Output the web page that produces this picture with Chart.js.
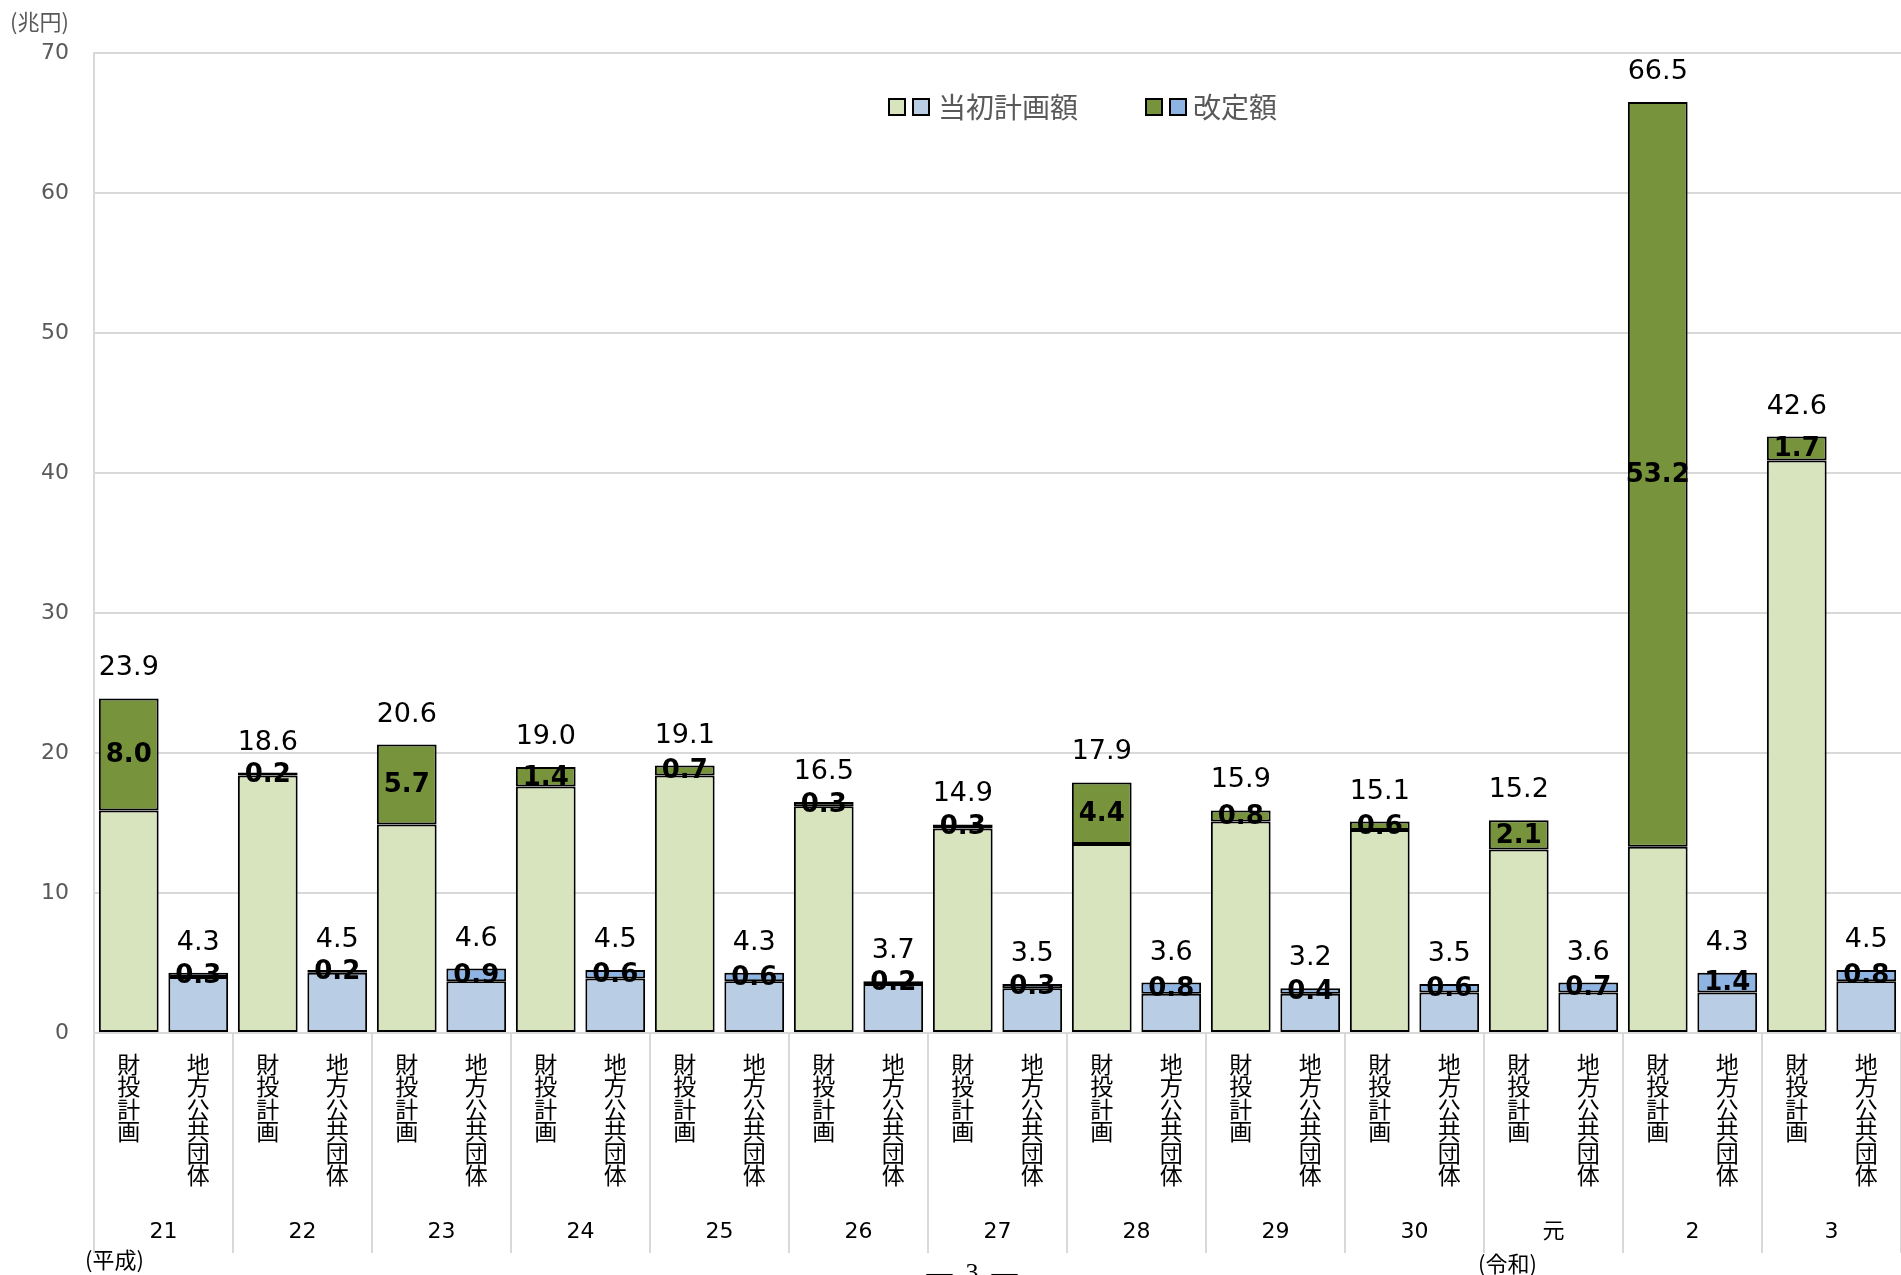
<!DOCTYPE html>
<html lang="ja">
<head>
<meta charset="utf-8">
<title>財投計画・地方公共団体 当初計画額と改定額</title>
<script src="https://cdn.jsdelivr.net/npm/chart.js@4.4.1/dist/chart.umd.min.js"></script>
<style>
  html, body { margin: 0; padding: 0; background: #fff; }
  #wrap { width: 1901px; height: 1275px; position: relative; }
</style>
</head>
<body>
<div id="wrap"><canvas id="chart"></canvas></div>
<script>
// fiscal years (平成21 .. 令和3)
const years = ['21', '22', '23', '24', '25', '26', '27', '28', '29', '30', '元', '2', '3'];
const barNames = ['財投計画', '地方公共団体'];

// 財投計画 (兆円)
const zaitoInitial = [15.9, 18.4, 14.9, 17.6, 18.4, 16.2, 14.6, 13.5, 15.1, 14.5, 13.1, 13.3, 40.9];
const zaitoRevised = [8.0, 0.2, 5.7, 1.4, 0.7, 0.3, 0.3, 4.4, 0.8, 0.6, 2.1, 53.2, 1.7];
const zaitoTotal = [23.9, 18.6, 20.6, 19.0, 19.1, 16.5, 14.9, 17.9, 15.9, 15.1, 15.2, 66.5, 42.6];

// 地方公共団体 (兆円)
const chihouInitial = [4.0, 4.3, 3.7, 3.9, 3.7, 3.5, 3.2, 2.8, 2.8, 2.9, 2.9, 2.9, 3.7];
const chihouRevised = [0.3, 0.2, 0.9, 0.6, 0.6, 0.2, 0.3, 0.8, 0.4, 0.6, 0.7, 1.4, 0.8];
const chihouTotal = [4.3, 4.5, 4.6, 4.5, 4.3, 3.7, 3.5, 3.6, 3.2, 3.5, 3.6, 4.3, 4.5];

const yTicks = [0, 10, 20, 30, 40, 50, 60, 70];

const COLORS = {
    zaitoInit: '#D7E4BD',
    chihouInit: '#B9CDE5',
    zaitoRev: '#77933C',
    chihouRev: '#8EB4E3',
    grid: '#D9D9D9',
    axisText: '#595959'
};
const FONT = '"DejaVu Sans", "Noto Sans CJK JP", sans-serif';
const JP_FONT = '"Noto Sans CJK JP", sans-serif';

// two bars per year: 財投計画 then 地方公共団体
const labels = [];
const initialData = [];
const revisedData = [];
const totals = [];
const initColors = [];
const revColors = [];
years.forEach(function(y, i) {
    labels.push(barNames[0].split(''), barNames[1].split(''));
    initialData.push(zaitoInitial[i], chihouInitial[i]);
    revisedData.push(zaitoRevised[i], chihouRevised[i]);
    totals.push(zaitoTotal[i], chihouTotal[i]);
    initColors.push(COLORS.zaitoInit, COLORS.chihouInit);
    revColors.push(COLORS.zaitoRev, COLORS.chihouRev);
});

// value labels: totals above the bars, revised amount inside the top segment
const valueLabels = {
    id: 'valueLabels',
    afterDatasetsDraw(chart) {
        const ctx = chart.ctx;
        const revMeta = chart.getDatasetMeta(1);
        ctx.save();
        ctx.fillStyle = '#000';
        ctx.textAlign = 'center';
        revMeta.data.forEach(function(bar, i) {
            ctx.font = 'bold 26px ' + FONT;
            ctx.textBaseline = 'middle';
            ctx.fillText(revisedData[i].toFixed(1), bar.x, (bar.y + bar.base) / 2 + 1);
            ctx.font = '27px ' + FONT;
            ctx.textBaseline = 'alphabetic';
            ctx.fillText(totals[i].toFixed(1), bar.x, bar.y - 23);
        });
        ctx.restore();
    }
};

// legend, unit, era notes and group separators
const decorations = {
    id: 'decorations',
    afterDraw(chart) {
        const ctx = chart.ctx;
        const x = chart.scales.x;
        const area = chart.chartArea;
        ctx.save();

        // separators between year groups below the axis
        ctx.strokeStyle = COLORS.grid;
        ctx.lineWidth = 2;
        const groupW = (x.right - x.left) / years.length;
        for (let i = 0; i <= years.length; i++) {
            const px = Math.round(x.left + i * groupW);
            ctx.beginPath();
            ctx.moveTo(px, area.bottom);
            ctx.lineTo(px, 1253);
            ctx.stroke();
        }

        // legend
        const sw = 16;
        const legendY = 107;
        const swatch = function(px, color) {
            ctx.fillStyle = color;
            ctx.fillRect(px, legendY - sw / 2, sw, sw);
            ctx.strokeStyle = '#000';
            ctx.lineWidth = 2;
            ctx.strokeRect(px, legendY - sw / 2, sw, sw);
        };
        swatch(889, COLORS.zaitoInit);
        swatch(913, COLORS.chihouInit);
        swatch(1146, COLORS.zaitoRev);
        swatch(1170, COLORS.chihouRev);
        ctx.fillStyle = COLORS.axisText;
        ctx.font = '28px ' + JP_FONT;
        ctx.textAlign = 'left';
        ctx.textBaseline = 'middle';
        ctx.fillText('当初計画額', 938, legendY);
        ctx.fillText('改定額', 1193, legendY);

        // unit
        ctx.font = '22px ' + JP_FONT;
        ctx.fillText('(兆円)', 10, 22);

        // era names
        ctx.fillStyle = '#000';
        ctx.fillText('(平成)', 85, 1260);
        ctx.fillText('(令和)', 1478, 1264);

        // page number
        ctx.textAlign = 'center';
        ctx.textBaseline = 'alphabetic';
        ctx.font = '26px "Liberation Serif", serif';
        ctx.fillText('—  3  —', 972, 1281);
        ctx.restore();
    }
};

const chart = new Chart(document.getElementById('chart'), {
    type: 'bar',
    data: {
        labels: labels,
        datasets: [
            {
                label: '当初計画額',
                data: initialData,
                backgroundColor: initColors,
                borderColor: '#000',
                borderWidth: 2,
                borderSkipped: false
            },
            {
                label: '改定額',
                data: revisedData,
                backgroundColor: revColors,
                borderColor: '#000',
                borderWidth: 2,
                borderSkipped: false
            }
        ]
    },
    options: {
        responsive: true,
        maintainAspectRatio: false,
        animation: false,
        layout: { padding: { top: 53, right: -3, left: 0, bottom: 0 } },
        datasets: {
            bar: { barPercentage: 0.86, categoryPercentage: 1.0 }
        },
        plugins: {
            legend: { display: false },
            tooltip: { enabled: false }
        },
        scales: {
            x: {
                stacked: true,
                offset: true,
                weight: 0,
                grid: { display: false, drawTicks: false },
                border: { color: COLORS.grid, width: 2 },
                ticks: {
                    autoSkip: false,
                    maxRotation: 0,
                    minRotation: 0,
                    padding: 20,
                    color: '#000',
                    font: { family: JP_FONT, size: 23, lineHeight: 0.97 }
                },
                afterFit: function(s) { s.height = 160; }
            },
            x2: {
                type: 'category',
                labels: years,
                position: 'bottom',
                offset: true,
                weight: 1,
                grid: { display: false, drawTicks: false },
                border: { display: false },
                ticks: {
                    autoSkip: false,
                    maxRotation: 0,
                    padding: 26,
                    color: '#000',
                    font: { family: FONT, size: 22 }
                },
                afterFit: function(s) { s.height = 82; }
            },
            y: {
                stacked: true,
                min: 0,
                max: 70,
                afterBuildTicks: function(s) { s.ticks = yTicks.map(function(v) { return { value: v }; }); },
                grid: { color: COLORS.grid, lineWidth: 2, drawTicks: false },
                border: { color: COLORS.grid, width: 2 },
                ticks: {
                    padding: 25,
                    color: COLORS.axisText,
                    font: { family: FONT, size: 22 }
                },
                afterFit: function(s) { s.width = 94; }
            }
        }
    },
    plugins: [valueLabels, decorations]
});
</script>
</body>
</html>
